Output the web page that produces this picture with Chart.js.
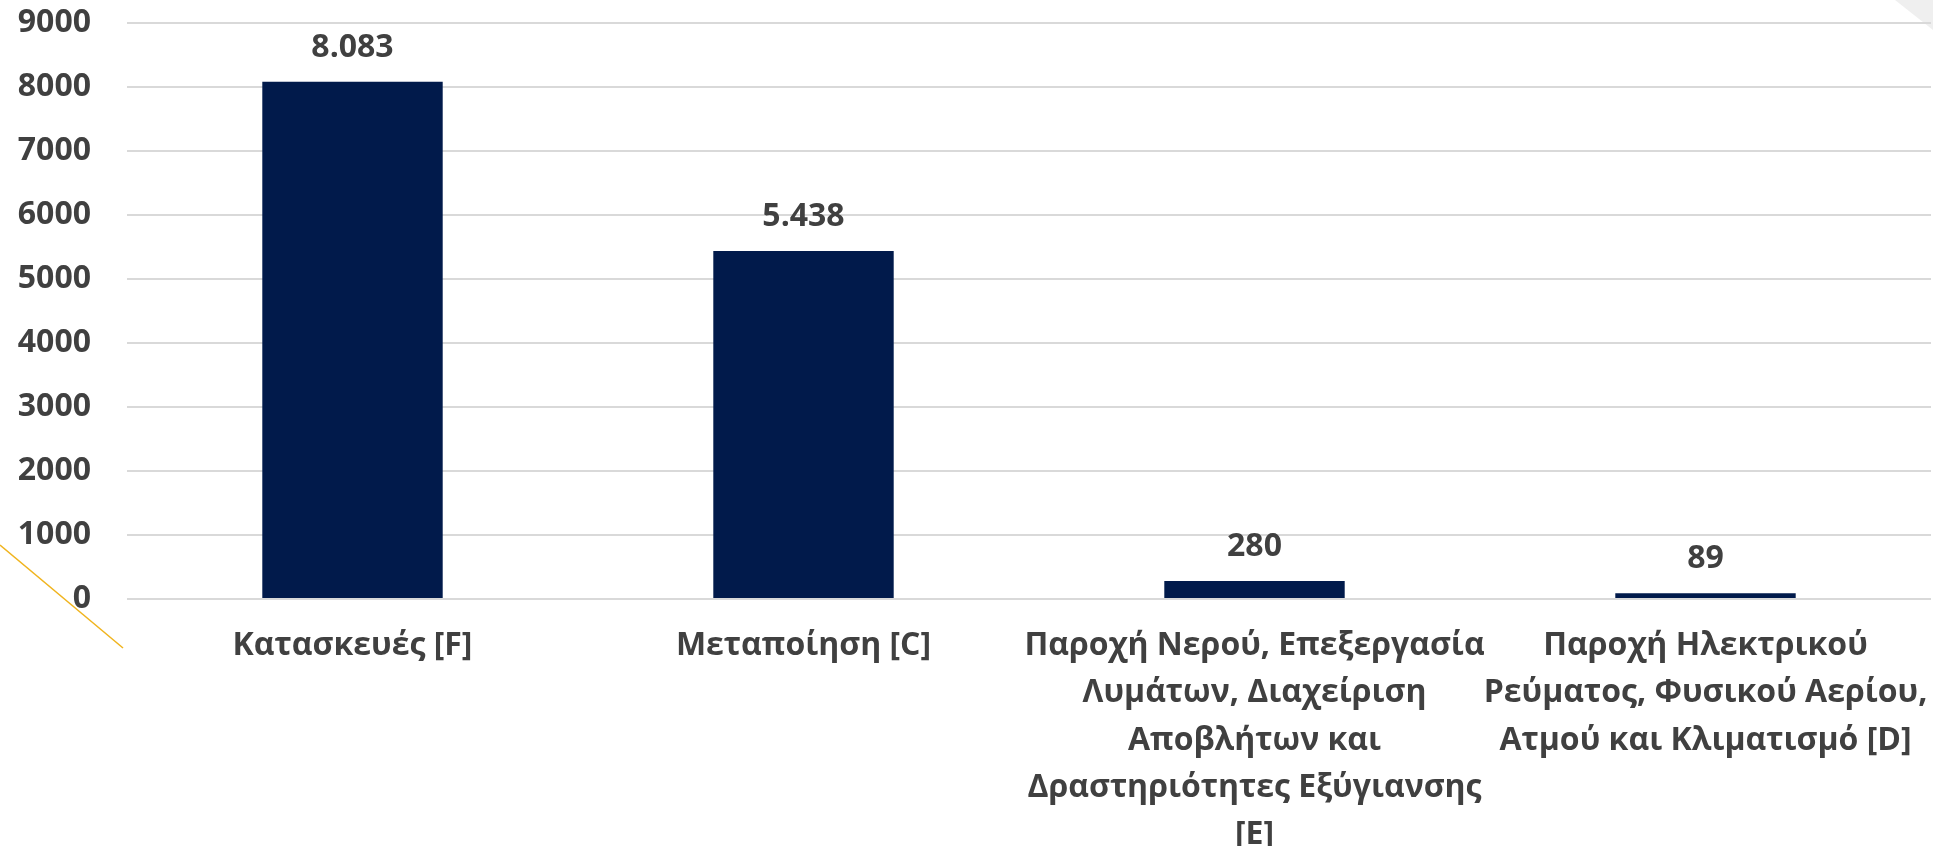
<!DOCTYPE html>
<html lang="el">
<head>
<meta charset="utf-8">
<title>Κλάδοι</title>
<script src="https://cdn.jsdelivr.net/npm/chart.js@4/dist/chart.umd.min.js"></script>
<style>
    html, body { margin: 0; padding: 0; background: #ffffff; }
    #wrap { width: 1933px; height: 846px; }
</style>
</head>
<body>
<div id="wrap"><canvas id="chart" width="1933" height="846"></canvas></div>
<script>
// ─── データ ───
const categories = [
    ['Κατασκευές [F]'],
    ['Μεταποίηση [C]'],
    ['Παροχή Νερού, Επεξεργασία', 'Λυμάτων, Διαχείριση', 'Αποβλήτων και', 'Δραστηριότητες Εξύγιανσης', '[E]'],
    ['Παροχή Ηλεκτρικού', 'Ρεύματος, Φυσικού Αερίου,', 'Ατμού και Κλιματισμό [D]'],
];
const values    = [8083, 5438, 280, 89];
const yTicksMax = 9000;
const yTickStep = 1000;

const textColor = '#404040';
const barColor  = '#011a4b';
const fontFam   = '"Open Sans", "Noto Sans", sans-serif';

// 千の位の区切りはドット（例: 8.083）
function fmt(v) {
    return String(v).replace(/\B(?=(\d{3})+(?!\d))/g, '.');
}

// 棒の上に値を表示
const valueLabels = {
    id: 'valueLabels',
    afterDatasetsDraw(chart) {
        const ctx  = chart.ctx;
        const meta = chart.getDatasetMeta(0);
        ctx.save();
        ctx.fillStyle    = textColor;
        ctx.font         = `bold 32px ${fontFam}`;
        ctx.textAlign    = 'center';
        ctx.textBaseline = 'middle';
        meta.data.forEach((bar, i) => {
            ctx.fillText(fmt(values[i]), bar.x, bar.y - 34);
        });
        ctx.restore();
    },
};

// 背景の飾り（左下の黄色い線と右上の灰色の三角）
const decor = {
    id: 'decor',
    beforeDraw(chart) {
        const ctx = chart.ctx;
        const w   = chart.width;
        ctx.save();
        ctx.fillStyle = '#efefef';
        ctx.beginPath();
        ctx.moveTo(w - 38, 0);
        ctx.lineTo(w, 0);
        ctx.lineTo(w, 30);
        ctx.closePath();
        ctx.fill();
        ctx.strokeStyle = '#f0b41e';
        ctx.lineWidth   = 1.5;
        ctx.beginPath();
        ctx.moveTo(0, 545);
        ctx.lineTo(123, 648);
        ctx.stroke();
        ctx.restore();
    },
};

const ctx = document.getElementById('chart').getContext('2d');
new Chart(ctx, {
    type: 'bar',
    data: {
        labels: categories,
        datasets: [{
            data: values,
            backgroundColor: barColor,
            borderWidth: 0,
            categoryPercentage: 0.4,
            barPercentage: 1,
        }],
    },
    options: {
        responsive: false,
        animation: false,
        layout: { padding: { top: 23, right: 2, bottom: 0, left: 0 } },
        plugins: {
            legend: { display: false },
            tooltip: { enabled: false },
        },
        scales: {
            x: {
                grid: { display: false, drawTicks: false },
                border: { display: false },
                ticks: {
                    color: textColor,
                    padding: 23,
                    maxRotation: 0,
                    autoSkip: false,
                    font: { family: fontFam, size: 32, weight: 'bold', lineHeight: 1.48 },
                },
                afterFit(scale) {
                    scale.height = 247;
                    scale.paddingLeft = 0;
                    scale.paddingRight = 0;
                },
            },
            y: {
                min: 0,
                max: yTicksMax,
                grid: { color: '#d9d9d9', lineWidth: 2, drawTicks: false },
                border: { display: false },
                ticks: {
                    stepSize: yTickStep,
                    color: textColor,
                    padding: 36,
                    callback: (v) => String(v),
                    font: { family: fontFam, size: 32, weight: 'bold', lineHeight: 1.2 },
                },
                afterFit(scale) {
                    scale.width = 127;
                    scale.paddingTop = 19;
                    scale.paddingBottom = 0;
                },
            },
        },
    },
    plugins: [decor, valueLabels],
});
</script>
</body>
</html>
